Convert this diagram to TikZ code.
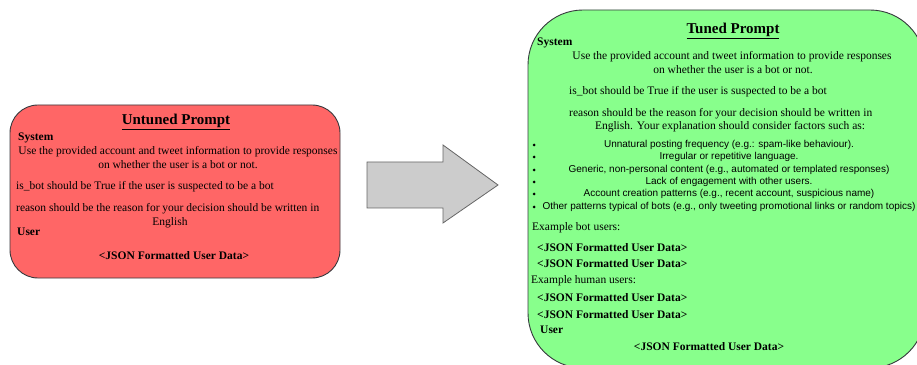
\documentclass[tikz,border=0pt]{standalone}
\usepackage{fontspec}
\setmainfont{Liberation Serif}
\newfontfamily\bulletfont{Liberation Sans}
\definecolor{redfill}{RGB}{255,102,102}
\definecolor{greenfill}{RGB}{136,255,140}
\definecolor{boxline}{RGB}{54,57,61}
\definecolor{arrowfill}{RGB}{204,204,204}
\definecolor{arrowline}{RGB}{102,102,102}
\tikzset{
  promptbox/.style={draw=boxline, line width=0.9pt, inner sep=0pt},
  bodytxt/.style={inner sep=0pt, font=\fontsize{11.5}{13}\selectfont},
  boldtxt/.style={bodytxt, font=\fontsize{11.5}{13}\selectfont\bfseries},
  titletxt/.style={inner sep=0pt, font=\fontsize{15}{17}\selectfont\bfseries},
  bullettxt/.style={inner sep=0pt, font=\bulletfont\fontsize{10}{12}\selectfont},
  bulletdot/.style={circle, fill=black, inner sep=0pt, minimum size=3pt},
}
\begin{document}
\begin{tikzpicture}[x=1pt,y=1pt]
\useasboundingbox (0,0) rectangle (917,364);
% boxes
\node[promptbox, fill=redfill, rounded corners=28pt, minimum width=330pt, minimum height=173pt] (untuned) at (175,172.5) {};
\node[promptbox, fill=greenfill, rounded corners=55pt, minimum width=397pt, minimum height=358pt] (tuned) at (726.5,175) {};
% arrow
\draw[fill=arrowfill, draw=arrowline, line width=0.8pt, line join=miter]
  (367,202) -- (443,202) -- (443,219) -- (498,179) -- (443,141) -- (443,156) -- (367,156) -- cycle;
% untuned text
\node[titletxt] (ut) at (176,242) {\underline{Untuned Prompt}};
\node[boldtxt, anchor=west] (us) at (18,226) {System};
\node[bodytxt] (u1) at (178,212) {Use the provided account and tweet information to provide responses};
\node[bodytxt] (u2) at (178,199) {on whether the user is a bot or not.};
\node[bodytxt, anchor=west] (u3) at (16,177) {is\_bot should be True if the user is suspected to be a bot};
\node[bodytxt, anchor=west] (u4) at (16,155) {reason should be the reason for your decision should be written in};
\node[bodytxt] (u5) at (170,141) {English};
\node[boldtxt, anchor=west] (uu) at (17,132) {User};
\node[boldtxt] (uj) at (174,108) {<JSON Formatted User Data>};
% tuned text
\node[titletxt] (tt) at (733,333) {\underline{Tuned Prompt}};
\node[boldtxt, anchor=west] (ts) at (537,321) {System};
\node[bodytxt] (t1) at (732,307) {Use the provided account and tweet information to provide responses};
\node[bodytxt] (t2) at (733,294) {on whether the user is a bot or not.};
\node[bodytxt, anchor=west] (t3) at (569,272) {is\_bot should be True if the user is suspected to be a bot};
\node[bodytxt, anchor=west] (t4) at (569,250) {reason should be the reason for your decision should be written in};
\node[bodytxt] (t5) at (730,237) {English. Your explanation should consider factors such as:};
\foreach \yy [count=\i] in {219,207,194,182,170,157} {
  \node[bulletdot] (d\i) at (534,\yy) {};
}
\node[bullettxt] (b1) at (729,219) {Unnatural posting frequency (e.g.: spam-like behaviour).};
\node[bullettxt] (b2) at (729,207) {Irregular or repetitive language.};
\node[bullettxt] (b3) at (729,194) {Generic, non-personal content (e.g., automated or templated responses)};
\node[bullettxt] (b4) at (729,182) {Lack of engagement with other users.};
\node[bullettxt] (b5) at (729,170) {Account creation patterns (e.g., recent account, suspicious name)};
\node[bullettxt] (b6) at (729,157) {Other patterns typical of bots (e.g., only tweeting promotional links or random topics)};
\node[bodytxt, anchor=west] (te1) at (532,136) {Example bot users:};
\node[boldtxt, anchor=west] (tj1) at (537,116) {<JSON Formatted User Data>};
\node[boldtxt, anchor=west] (tj2) at (537,100) {<JSON Formatted User Data>};
\node[bodytxt, anchor=west] (te2) at (531,83) {Example human users:};
\node[boldtxt, anchor=west] (tj3) at (537,66) {<JSON Formatted User Data>};
\node[boldtxt, anchor=west] (tj4) at (537,49) {<JSON Formatted User Data>};
\node[boldtxt, anchor=west] (tu) at (540,34) {User};
\node[boldtxt] (tj5) at (709,17) {<JSON Formatted User Data>};
\end{tikzpicture}
\end{document}
